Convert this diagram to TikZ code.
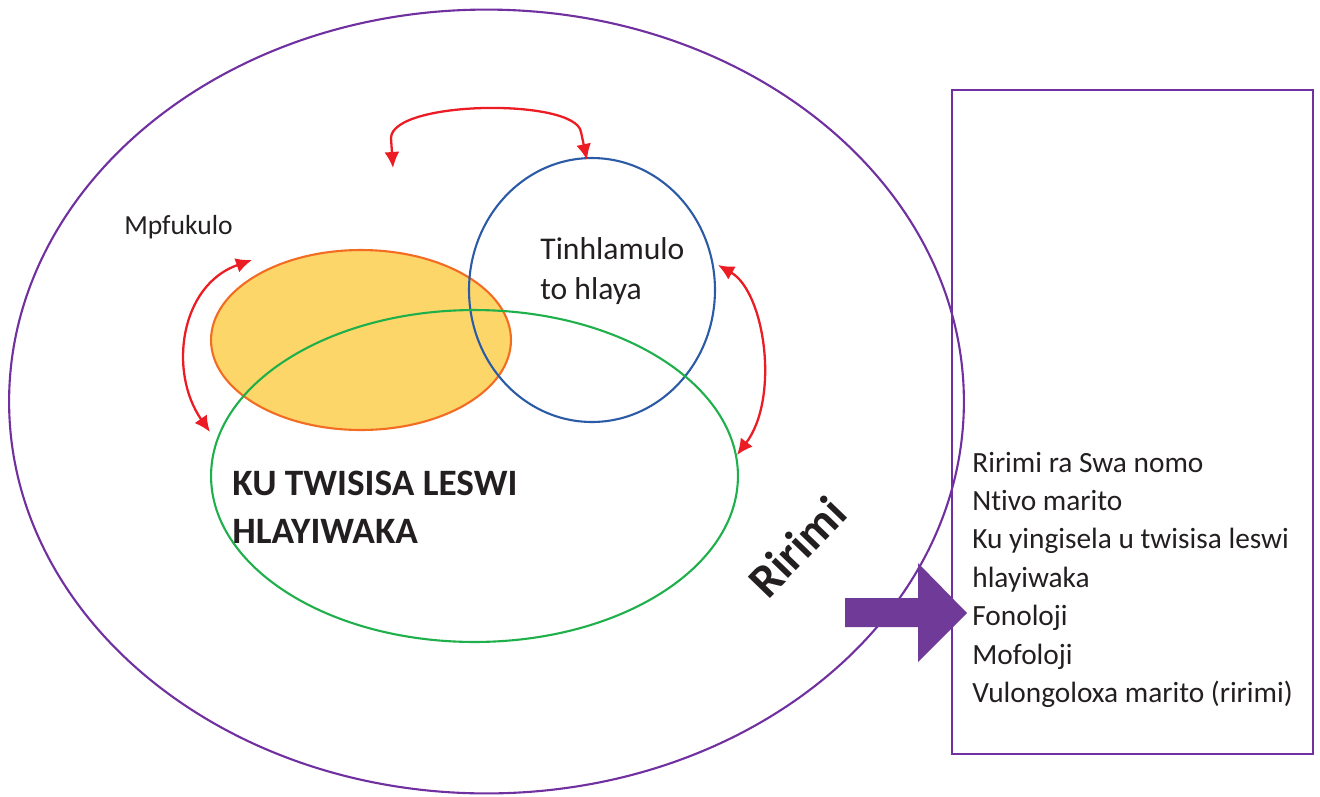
\documentclass[tikz,border=0pt]{standalone}
\usepackage{fontspec}
\setmainfont{Carlito}[Ligatures=NoCommon]
\usetikzlibrary{shapes.geometric,arrows.meta}
\definecolor{ppl}{HTML}{7030A0}
\definecolor{pplfill}{HTML}{6F3A98}
\definecolor{orng}{HTML}{F26C23}
\definecolor{orngfill}{HTML}{FCD668}
\definecolor{blu}{HTML}{2B5BA6}
\definecolor{grn}{HTML}{1FB04B}
\definecolor{rd}{HTML}{EC1C24}
\definecolor{txt}{HTML}{231F20}
\tikzset{
  shp/.style={ellipse, inner sep=0pt, outer sep=0pt, line width=1.2pt},
  redarr/.style={rd, line width=1.3pt, {Latex[length=0.32cm,width=0.3cm]}-{Latex[length=0.32cm,width=0.3cm]}},
  lbl/.style={text=txt, inner sep=0pt, font=\fontsize{16.7}{22}\selectfont},
}
\begin{document}
\begin{tikzpicture}[x=0.02cm,y=-0.02cm]
\useasboundingbox (0,0) rectangle (1320,796);
% outer ellipse
\node[shp, draw=ppl, minimum width=19.1cm, minimum height=15.68cm] (outer) at (486.5,401.5) {};
% orange filled ellipse
\node[shp, fill=orngfill, minimum width=6cm, minimum height=3.6cm] (orf) at (361,340) {};
\node[shp, draw=orng, minimum width=6cm, minimum height=3.6cm] (mpf) at (361,340) {};
\node[shp, draw=blu, minimum width=4.92cm, minimum height=5.28cm] (tin) at (592,290) {};
\node[shp, draw=grn, minimum width=10.54cm, minimum height=6.64cm] (ku) at (474.5,476) {};
% rectangle
\node[draw=ppl, line width=1.2pt, minimum width=7.22cm, minimum height=13.28cm, inner sep=0pt] (box) at (1132.5,422) {};
% block arrow
\fill[pplfill] (845,598) -- (918,598) -- (918,563) -- (967,613) -- (918,662) -- (918,627) -- (845,627) -- cycle;
% red arrows
\coordinate (t1) at (393,168);
\coordinate (t2) at (587,160);
\draw[redarr] (t1) -- (391,138) .. controls (392,100) and (576,98) .. (581,132) -- (t2);
\coordinate (l1) at (252,260);
\coordinate (l2) at (210,432);
\draw[redarr] (l1) .. controls (180,285) and (168,372) .. (l2);
\coordinate (r1) at (718,265);
\coordinate (r2) at (737,455);
\draw[redarr] (r1) .. controls (765,292) and (780,398) .. (r2);
% labels
\node[lbl, anchor=base west, font=\fontsize{15.7}{20}\selectfont] (lmpf) at (124,234) {Mpfukulo};
\node[lbl, anchor=base west, font=\fontsize{18}{22}\selectfont] (ltin1) at (540,259) {Tinhlamulo};
\node[lbl, anchor=base west, font=\fontsize{18}{22}\selectfont] (ltin2) at (540,299) {to hlaya};
\node[lbl, anchor=base west, font=\fontsize{21.2}{27}\selectfont\bfseries] (lku1) at (232,495) {KU TWISISA LESWI};
\node[lbl, anchor=base west, font=\fontsize{21.2}{27}\selectfont\bfseries] (lku2) at (232,543) {HLAYIWAKA};
\node[lbl, anchor=base, rotate=46, font=\fontsize{27}{30}\selectfont\bfseries] (lrir) at (809,558) {Ririmi};
\foreach \t [count=\i] in {Ririmi ra Swa nomo, Ntivo marito, Ku yingisela u twisisa leswi, hlayiwaka, Fonoloji, Mofoloji, Vulongoloxa marito (ririmi)}
  \node[lbl, anchor=base west] (li\i) at (972,{472+38.4*(\i-1)}) {\t};
\end{tikzpicture}
\end{document}
